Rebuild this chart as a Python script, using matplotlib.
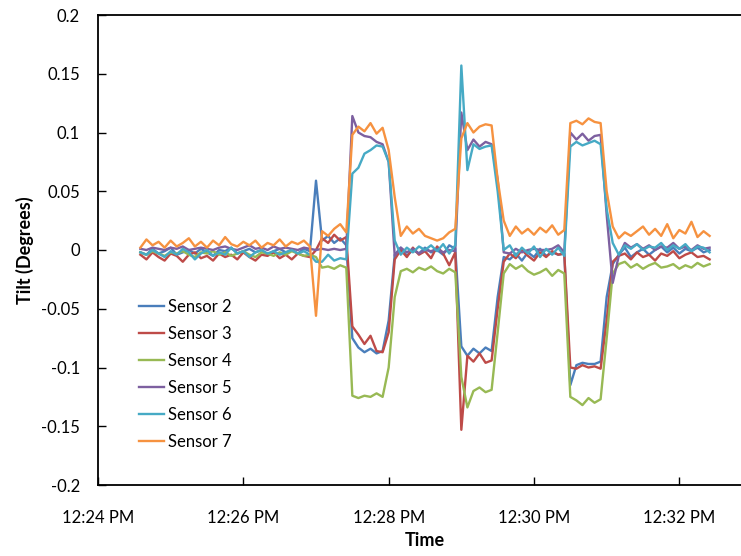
import pandas as pd
import matplotlib
matplotlib.use("Agg")
import matplotlib.pyplot as plt
import matplotlib.dates as mdates

plt.rcParams['font.family'] = ['Lato', 'DejaVu Sans']

# readings every 5 s, starting 12:24:35
t_start = "2013-01-01 12:24:35"
n_samples = 95

sensor2 = [-0.002, -0.004, 0.001, -0.003, -0.001, 0.002, -0.004, -0.002, 0.000, -0.003,
           0.001, -0.002, -0.005, 0.000, -0.001, 0.002, -0.003, -0.001, 0.001, -0.002,
           0.000, -0.004, -0.001, 0.001, -0.002, 0.000, -0.003, 0.001, -0.001,
           0.059,
           0.008, 0.012, 0.006, 0.010, 0.004,
           -0.075, -0.083, -0.087, -0.084, -0.088, -0.086,
           -0.060,
           -0.004, 0.002, -0.005, 0.000, -0.003, 0.002, -0.002, 0.000, -0.004, 0.004, 0.001,
           -0.082, -0.090, -0.084, -0.088, -0.083, -0.086,
           -0.040, -0.006,
           -0.008, -0.003, -0.009, -0.002, -0.006, 0.001, -0.005, -0.002, -0.004, -0.003,
           -0.115, -0.098, -0.096, -0.097, -0.097, -0.095,
           -0.040,
           -0.012, -0.004, 0.002, -0.006, -0.002, 0.001, -0.004, 0.000, 0.003, -0.002,
           0.002, -0.003, 0.001, -0.001, 0.002, -0.002, 0.000]

sensor3 = [-0.004, -0.008, -0.002, -0.006, -0.009, -0.003, -0.005, -0.010, -0.004, -0.002,
           -0.007, -0.005, -0.009, -0.003, -0.006, -0.004, -0.008, -0.002, -0.006, -0.009,
           -0.004, -0.005, -0.002, -0.007, -0.004, -0.008, -0.003, -0.005, -0.006,
           0.000,
           0.010, 0.006, 0.013, 0.008, 0.011,
           -0.065, -0.072, -0.080, -0.073, -0.086, -0.087,
           -0.070,
           -0.008, 0.000, -0.006, 0.002, -0.004, -0.001, -0.007, 0.003, -0.003, -0.013, -0.002,
           -0.153, -0.090, -0.095, -0.088, -0.096, -0.094,
           -0.050, -0.010,
           -0.003, -0.007, 0.000, -0.005, -0.009, -0.002, -0.006, -0.001, -0.004, -0.003,
           -0.100, -0.101, -0.098, -0.100, -0.099, -0.101,
           -0.060,
           -0.010, -0.005, -0.003, -0.008, -0.002, -0.006, -0.004, -0.009, -0.003, -0.005,
           -0.001, -0.007, -0.004, -0.002, -0.006, -0.005, -0.008]

sensor4 = [-0.002, -0.004, -0.001, -0.003, -0.005, -0.002, -0.003, -0.001, -0.004, -0.006,
           -0.002, -0.003, -0.001, -0.004, -0.002, -0.005, -0.003, -0.001, -0.004, -0.006,
           -0.002, -0.003, -0.005, -0.002, -0.004, -0.001, -0.003, -0.005, -0.004,
           -0.006,
           -0.015, -0.014, -0.016, -0.013, -0.015,
           -0.124, -0.126, -0.124, -0.125, -0.122, -0.125,
           -0.100,
           -0.040, -0.018, -0.016, -0.019, -0.015, -0.017, -0.014, -0.018, -0.020, -0.016, -0.019,
           -0.108, -0.134, -0.120, -0.117, -0.121, -0.119,
           -0.070, -0.020,
           -0.012, -0.016, -0.013, -0.018, -0.021, -0.019, -0.016, -0.022, -0.017, -0.020,
           -0.125, -0.128, -0.132, -0.126, -0.130, -0.127,
           -0.075,
           -0.020, -0.012, -0.010, -0.015, -0.012, -0.016, -0.013, -0.011, -0.015, -0.014,
           -0.012, -0.016, -0.013, -0.015, -0.011, -0.014, -0.012]

sensor5 = [0.001, 0.000, 0.002, 0.001, 0.000, 0.002, 0.001, 0.003, 0.000, 0.001,
           0.002, 0.001, 0.000, 0.002, 0.003, 0.001, 0.000, 0.002, 0.004, 0.001,
           0.002, 0.000, 0.003, 0.001, 0.002, 0.001, 0.000, 0.002, 0.001,
           0.000,
           0.001, 0.000, 0.001, 0.000, 0.001,
           0.114, 0.100, 0.097, 0.096, 0.092, 0.090,
           0.075,
           -0.005, 0.002, -0.002, 0.001, -0.003, 0.000, -0.001, 0.001, -0.002, 0.000, -0.001,
           0.117, 0.085, 0.094, 0.088, 0.092, 0.090,
           0.060, -0.002,
           -0.003, 0.001, -0.002, 0.000, 0.001, 0.000, 0.000, 0.001, 0.004, -0.002,
           0.100, 0.094, 0.099, 0.093, 0.097, 0.098,
           0.030,
           -0.028, -0.005, 0.006, 0.002, 0.005, 0.001, 0.004, 0.000, 0.003, 0.002,
           0.006, 0.001, 0.003, 0.000, 0.004, 0.001, 0.002]

sensor6 = [-0.002, -0.004, 0.000, -0.003, -0.006, -0.001, -0.004, 0.001, -0.002, -0.008,
           -0.003, 0.000, -0.005, -0.002, -0.004, 0.002, -0.003, -0.001, -0.006, -0.002,
           0.000, -0.003, -0.001, -0.004, -0.002, 0.000, -0.003, -0.001, -0.004,
           -0.010,
           -0.010, -0.004, -0.009, -0.007, -0.008,
           0.065, 0.070, 0.082, 0.085, 0.089, 0.088,
           0.075,
           0.008, -0.004, 0.002, -0.002, 0.003, 0.000, 0.004, -0.001, 0.005, -0.003, 0.004,
           0.157, 0.068, 0.090, 0.086, 0.088, 0.089,
           0.050, 0.000,
           0.004, -0.005, 0.002, -0.003, 0.003, -0.006, 0.001, -0.004, 0.002, -0.005,
           0.088, 0.092, 0.089, 0.091, 0.093, 0.090,
           0.035,
           0.006, -0.004, 0.004, 0.001, 0.005, 0.000, 0.003, 0.002, 0.006, 0.000,
           0.004, 0.001, 0.005, -0.001, 0.003, 0.002, -0.002]

sensor7 = [0.002, 0.009, 0.004, 0.007, 0.002, 0.008, 0.003, 0.006, 0.010, 0.003,
           0.007, 0.002, 0.008, 0.004, 0.011, 0.005, 0.003, 0.007, 0.004, 0.008,
           0.002, 0.006, 0.004, 0.009, 0.003, 0.007, 0.005, 0.008, 0.003,
           -0.056,
           0.016, 0.012, 0.018, 0.022, 0.015,
           0.098, 0.105, 0.101, 0.108, 0.099, 0.104,
           0.085,
           0.045, 0.012, 0.020, 0.014, 0.018, 0.012, 0.010, 0.008, 0.010, 0.015, 0.018,
           0.095, 0.108, 0.100, 0.105, 0.107, 0.106,
           0.060, 0.025,
           0.012, 0.020, 0.014, 0.018, 0.013, 0.019, 0.015, 0.021, 0.013, 0.017,
           0.108, 0.110, 0.107, 0.112, 0.109, 0.108,
           0.050,
           0.020, 0.010, 0.015, 0.012, 0.016, 0.020, 0.013, 0.018, 0.012, 0.022,
           0.010, 0.017, 0.014, 0.024, 0.011, 0.016, 0.012]

labels = ["Sensor 2", "Sensor 3", "Sensor 4", "Sensor 5", "Sensor 6", "Sensor 7"]
colors = ["#4A7EBB", "#BE4B48", "#98B954", "#7D60A0", "#46AAC5", "#F69240"]

times = pd.date_range(t_start, periods=n_samples, freq="5s")

fig = plt.figure(figsize=(7.41, 5.56), dpi=100)
ax = fig.add_axes([98 / 741, 71 / 556, 654 / 741, 470 / 556])

for vals, lab, col in zip([sensor2, sensor3, sensor4, sensor5, sensor6, sensor7], labels, colors):
    ax.plot(times, vals, color=col, lw=1.7, label=lab)

ax.set_xlim(pd.Timestamp("2013-01-01 12:24:00"), pd.Timestamp("2013-01-01 12:33:00"))
ax.set_ylim(-0.2, 0.2)
ax.set_yticks([-0.2, -0.15, -0.1, -0.05, 0, 0.05, 0.1, 0.15, 0.2])
ax.set_yticklabels(["-0.2", "-0.15", "-0.1", "-0.05", "0", "0.05", "0.1", "0.15", "0.2"])
ax.xaxis.set_major_locator(mdates.MinuteLocator(byminute=[24, 26, 28, 30, 32]))
ax.xaxis.set_major_formatter(mdates.DateFormatter("%I:%M %p"))

ax.tick_params(axis='x', direction='in', length=6, width=1, labelsize=12, pad=18)
ax.tick_params(axis='y', direction='in', length=6, width=1, labelsize=12, pad=13)
for s in ["left", "bottom", "top"]:
    ax.spines[s].set_linewidth(1.3)
ax.spines["right"].set_visible(False)

ax.set_xlabel("Time", fontsize=13, fontweight='bold', labelpad=4)
ax.set_ylabel("Tilt (Degrees)", fontsize=13, fontweight='bold', labelpad=5)

ax.legend(loc='upper left', bbox_to_anchor=(132 / 741, 1 - 292 / 556), bbox_transform=fig.transFigure,
          frameon=False, fontsize=12, handlelength=1.5, handletextpad=0.25, labelspacing=0.66,
          borderaxespad=0)

fig.savefig("out.png", dpi=100)
